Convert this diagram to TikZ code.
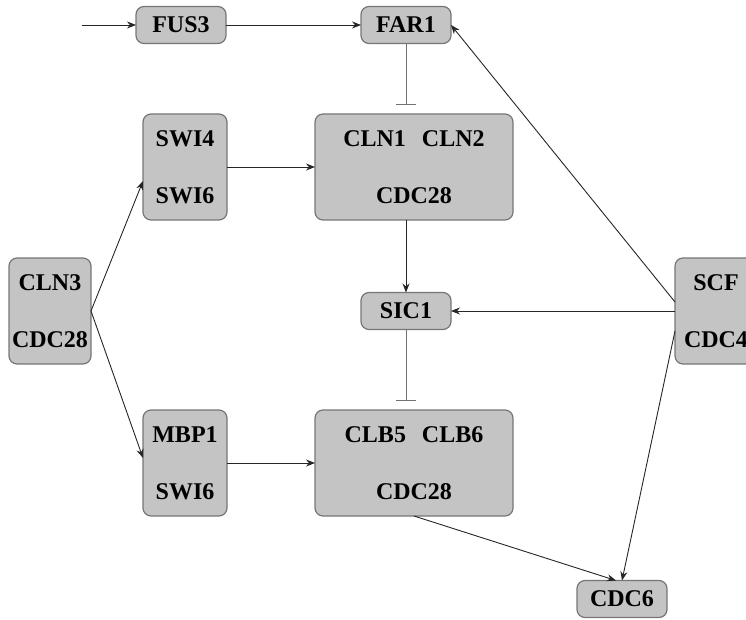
\documentclass[tikz,border=0pt]{standalone}
\usepackage{fontspec}
\setmainfont{Liberation Serif}
\usepackage{tikz}
\usetikzlibrary{arrows.meta}
\definecolor{boxgray}{RGB}{196,196,196}
\definecolor{rimgray}{RGB}{118,118,118}

\begin{document}
\begin{tikzpicture}[x=1pt, y=-1pt,
        protein/.style={draw=rimgray, line width=1.2pt, fill=boxgray, rounded corners=8pt,
            inner sep=0pt, outer sep=0pt, align=center, font=\fontsize{24}{28}\selectfont\bfseries},
        single/.style={protein, minimum width=90pt, minimum height=37pt},
        complex/.style={protein, minimum height=106pt},
        act/.style={-{Stealth[length=9pt,width=7pt]}, line width=0.9pt, draw=black!85},
        inh/.style={-{Bar[width=20pt]}, line width=0.9pt, draw=black!55, shorten >=9pt}]
            % Frame
            \useasboundingbox (0,0) rectangle (746,620);
            \clip (0,0) rectangle (746,620);

            % Top row
            \node[single] (FUS3) at (181,25) {FUS3};
            \node[single] (FAR1) at (406,25) {FAR1};
            \coordinate (signal) at (82,25);

            % Transcription factors and cyclin complexes
            \node[complex, minimum width=84pt] (SWI) at (185,167) {SWI4\\[29pt]SWI6};
            \node[complex, minimum width=198pt] (CLN) at (414,167) {CLN1\hspace{16pt}CLN2\\[29pt]CDC28};
            \node[complex, minimum width=84pt] (MBP) at (185,463) {MBP1\\[29pt]SWI6};
            \node[complex, minimum width=198pt] (CLB) at (414,463) {CLB5\hspace{16pt}CLB6\\[29pt]CDC28};

            % Middle row
            \node[complex, minimum width=82pt] (CLN3) at (50,311) {CLN3\\[29pt]CDC28};
            \node[single] (SIC1) at (406,311) {SIC1};
            \node[complex, minimum width=82pt] (SCF) at (716,311) {SCF\\[29pt]CDC4};

            % Bottom
            \node[single] (CDC6) at (622,599) {CDC6};

            % Activations
            \draw[act] (signal) -- (FUS3);
            \draw[act] (FUS3) -- (FAR1);
            \draw[act] (CLN3.east) -- ([yshift=-14pt]SWI.west);
            \draw[act] (CLN3.east) -- ([yshift=5pt]MBP.west);
            \draw[act] (SWI) -- (CLN);
            \draw[act] (MBP) -- (CLB);
            \draw[act] (CLN.south -| SIC1) -- (SIC1);
            \draw[act] (CLB.south) -- ([xshift=-6pt]CDC6.north);
            \draw[act] ([yshift=9pt]SCF.west) -- (FAR1.east);
            \draw[act] (SCF) -- (SIC1);
            \draw[act] ([yshift=-20pt]SCF.west) -- (CDC6.north);

            % Inhibitions
            \draw[inh] (FAR1) -- (FAR1 |- CLN.north);
            \draw[inh] (SIC1) -- (SIC1 |- CLB.north);
        \end{tikzpicture}
\end{document}
